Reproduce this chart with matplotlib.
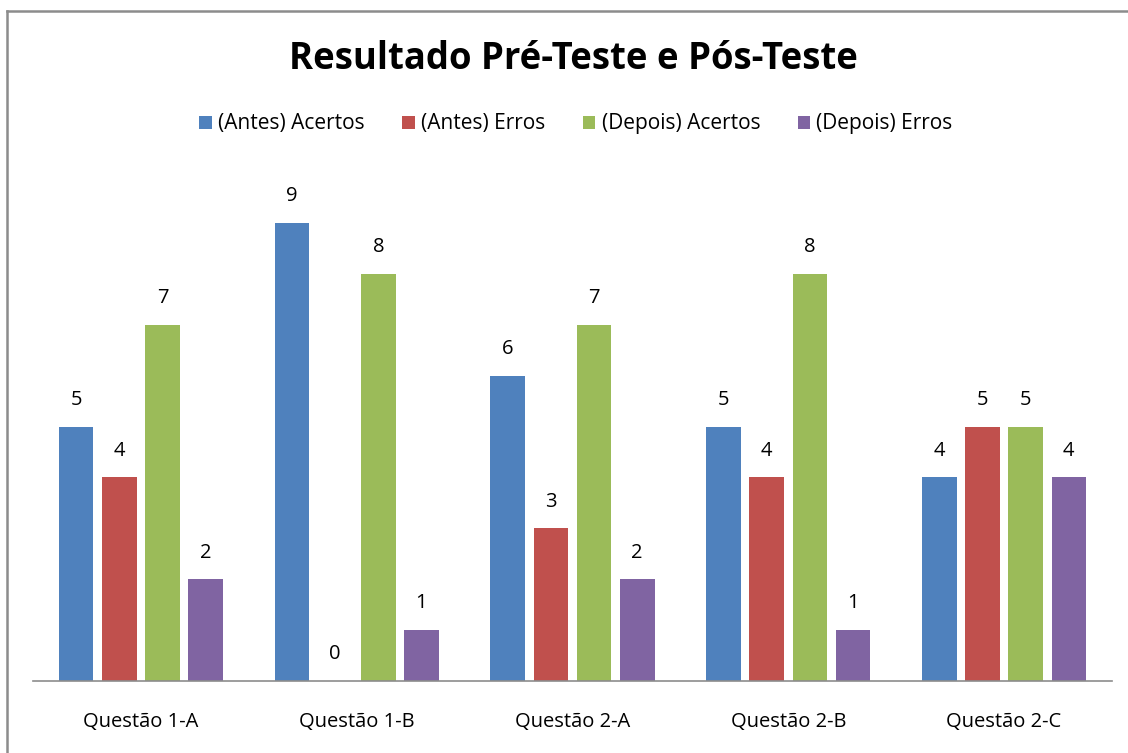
import numpy as np
import matplotlib
matplotlib.use('Agg')
import matplotlib.pyplot as plt
from matplotlib.lines import Line2D

questoes = ['Questão 1-A', 'Questão 1-B', 'Questão 2-A', 'Questão 2-B', 'Questão 2-C']
series = ['(Antes) Acertos', '(Antes) Erros', '(Depois) Acertos', '(Depois) Erros']
antes_acertos = [5, 9, 6, 5, 4]
antes_erros = [4, 0, 3, 4, 5]
depois_acertos = [7, 8, 7, 8, 5]
depois_erros = [2, 1, 2, 1, 4]
cores = ['#4F81BD', '#C0504D', '#9BBB59', '#8064A2']

plt.rcParams['font.family'] = ['Open Sans', 'DejaVu Sans']

fig = plt.figure(figsize=(11.28, 7.53), dpi=100)
ax = fig.add_axes([33/1128, 72/753, 1079/1128, 509/753])

x = np.arange(len(questoes))
step = 0.2
width = 0.16
valores = [antes_acertos, antes_erros, depois_acertos, depois_erros]
for i, (nome, vals, cor) in enumerate(zip(series, valores, cores)):
    pos = x + (i - 1.5)*step
    bars = ax.bar(pos, vals, width=width, color=cor, label=nome)
    for xb, v in zip(pos, vals):
        ax.annotate(str(v), (xb, v), xytext=(0, 12), textcoords='offset points',
                    ha='center', va='bottom', fontsize=14.5)

ax.set_xlim(-0.5, len(questoes) - 0.5)
ax.set_ylim(0, 10)
ax.set_yticks([])
ax.set_xticks(x)
ax.set_xticklabels(questoes, fontsize=14.5)
ax.tick_params(axis='x', length=0, pad=22)
for s in ['top', 'right', 'left']:
    ax.spines[s].set_visible(False)
ax.spines['bottom'].set_color('#8c8c8c')
ax.spines['bottom'].set_linewidth(1.2)

fig.text(573/1128, 1 - 59/753, 'Resultado Pré-Teste e Pós-Teste', ha='center', va='center',
         fontsize=26.3, fontweight='bold')

ax.legend(loc='center', bbox_to_anchor=(576/1128, 1 - 124/753), bbox_transform=fig.transFigure,
          ncol=4, frameon=False, fontsize=15, handlelength=0.6, handleheight=0.6,
          handletextpad=0.3, columnspacing=1.8)

# chart border (top and left visible)
fig.add_artist(Line2D([7/1128, 7/1128], [0, 1 - 11/753], transform=fig.transFigure,
                      color='#8c8c8c', linewidth=1.8))
fig.add_artist(Line2D([7/1128, 1], [1 - 11/753, 1 - 11/753], transform=fig.transFigure,
                      color='#8c8c8c', linewidth=1.8))

fig.savefig('out.png', dpi=100)
